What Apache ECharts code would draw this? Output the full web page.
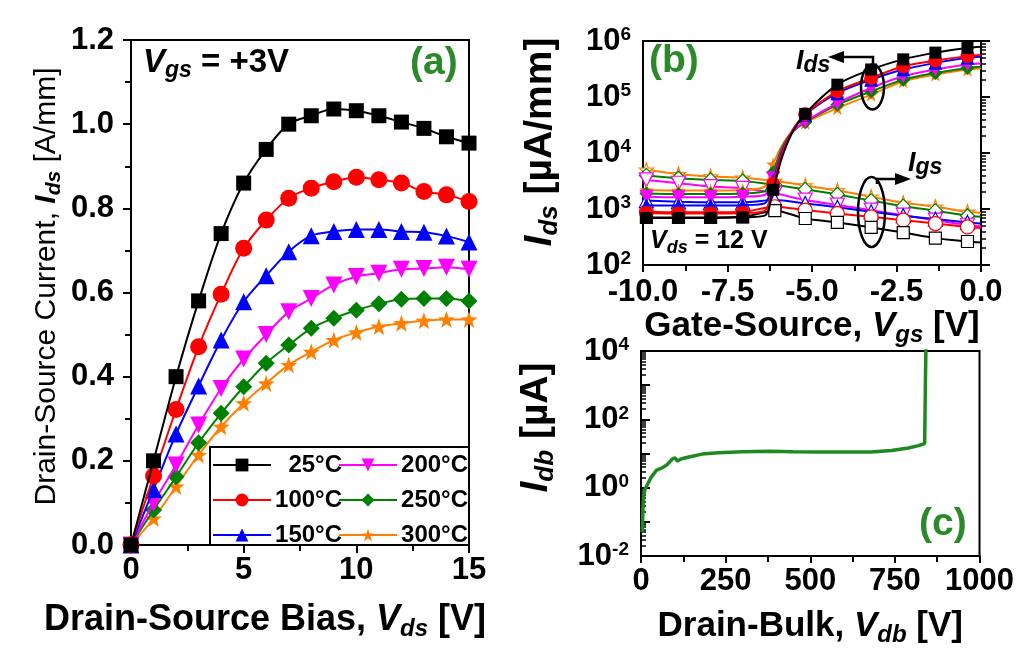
<!DOCTYPE html>
<html>
<head>
<meta charset="utf-8">
<script src="https://cdn.jsdelivr.net/npm/echarts@6/dist/echarts.min.js"></script>
<style>
  html, body { margin: 0; padding: 0; background: #fff; }
  #chart-container { width: 1017px; height: 648px; }
</style>
</head>
<body>
<div id="chart-container"></div>
<script>
// ---- (a) output curves, Vgs = +3 V ----
const VDS = [0, 1, 2, 3, 4, 5, 6, 7, 8, 9, 10, 11, 12, 13, 14, 15];
const IDS_25 = [0, 0.20, 0.40, 0.58, 0.74, 0.86, 0.94, 1.00, 1.02, 1.036, 1.032, 1.02, 1.005, 0.99, 0.97, 0.955];
const IDS_100 = [0, 0.164, 0.322, 0.471, 0.596, 0.705, 0.772, 0.824, 0.848, 0.863, 0.874, 0.868, 0.86, 0.84, 0.832, 0.816];
const IDS_150 = [0, 0.132, 0.264, 0.378, 0.487, 0.578, 0.64, 0.697, 0.735, 0.745, 0.75, 0.75, 0.745, 0.743, 0.734, 0.72];
const IDS_200 = [0, 0.10, 0.19, 0.285, 0.372, 0.442, 0.50, 0.554, 0.586, 0.618, 0.638, 0.646, 0.655, 0.657, 0.66, 0.655];
const IDS_250 = [0, 0.083, 0.162, 0.243, 0.313, 0.376, 0.432, 0.475, 0.515, 0.539, 0.558, 0.573, 0.584, 0.586, 0.586, 0.58];
const IDS_300 = [0, 0.063, 0.139, 0.214, 0.281, 0.337, 0.384, 0.428, 0.459, 0.487, 0.505, 0.519, 0.527, 0.533, 0.536, 0.536];
const TEMPS = ['25°C', '100°C', '150°C', '200°C', '250°C', '300°C'];

// ---- (b) transfer curves, Vds = 12 V (uA/mm) ----
const VGS_IDS = [-9.9, -8.95, -8.0, -7.05, -6.4, -6.15, -5.9, -5.6, -5.2, -4.25, -3.25, -2.3, -1.35, -0.4, 0];
const VGS_IGS = [-9.9, -8.95, -8.0, -7.05, -6.1, -5.2, -4.25, -3.25, -2.3, -1.35, -0.4, 0];
const VGS_MARKS = [-9.9, -8.95, -8.0, -7.05, -6.15, -6.1, -5.2, -4.25, -3.25, -2.3, -1.35, -0.4];
const B_IDS_25 = [690, 690, 690, 710, 760, 2200, 7900, 22000, 50000, 166000, 310000, 470000, 620000, 750000, 790000];
const B_IDS_100 = [850, 830, 830, 850, 930, 2800, 9300, 24000, 49000, 126000, 219000, 355000, 447000, 537000, 562000];
const B_IDS_150 = [1170, 1150, 1150, 1170, 1260, 3200, 10000, 24000, 48000, 117000, 204000, 309000, 407000, 501000, 525000];
const B_IDS_200 = [1660, 1620, 1620, 1660, 1780, 3550, 10700, 22900, 36300, 77600, 145000, 234000, 309000, 380000, 398000];
const B_IDS_250 = [1900, 1860, 1860, 1900, 2090, 4470, 12000, 23400, 35500, 72400, 126000, 204000, 269000, 331000, 347000];
const B_IDS_300 = [2190, 2140, 2140, 2190, 2510, 6310, 13200, 23400, 34700, 63100, 110000, 191000, 251000, 309000, 324000];
const B_IGS_25 = [708, 708, 708, 724, 933, 676, 575, 468, 380, 302, 263, 251];
const B_IGS_100 = [891, 871, 871, 891, 1096, 955, 832, 724, 631, 550, 479, 457];
const B_IGS_150 = [1413, 1349, 1318, 1318, 1445, 1259, 1072, 891, 759, 661, 575, 550];
const B_IGS_200 = [3311, 2884, 2512, 2344, 1905, 1445, 1175, 955, 776, 631, 513, 490];
const B_IGS_250 = [3981, 3548, 3311, 3162, 2692, 2239, 1820, 1413, 1122, 933, 759, 724];
const B_IGS_300 = [5012, 4169, 3802, 3631, 3162, 2630, 2138, 1660, 1288, 1096, 891, 851];

// ---- (c) drain-bulk breakdown (uA) ----
const VDB = [4, 6, 8, 12, 20, 30, 45, 60, 75, 92, 100, 108, 120, 145, 180, 230, 300, 380, 450, 520, 600, 680, 740, 790, 820, 838, 840, 842];
const IDB = [0.05, 0.3, 0.6, 0.9, 1.3, 2.0, 3.2, 3.7, 4.5, 6.8, 7.5, 6.0, 7.0, 8.0, 9.6, 10.5, 11.2, 11.7, 11.2, 11.0, 11.0, 11.0, 12.3, 14.5, 17, 19.5, 1000, 20000];

const COLORS = ['#000000', '#ff0000', '#0000ff', '#ff00ff', '#008000', '#ff8000'];
const STAR = 'path://M0,-10 L2.35,-3.24 L9.51,-3.09 L3.8,1.23 L5.88,8.09 L0,4 L-5.88,8.09 L-3.8,1.23 L-9.51,-3.09 L-2.35,-3.24 Z';
const SYMBOLS = ['rect', 'circle', 'triangle', 'triangle', 'diamond', STAR];
const ROTATE = [0, 0, 0, 180, 0, 0];
const FONT = 'Liberation Sans, Arial, sans-serif';

const chart = echarts.init(document.getElementById('chart-container'));

const zip = (xs, ys) => xs.map((x, i) => [x, ys[i]]);

// rich styles for titles with italic symbol + subscript
function titleRich(size, sub) {
  return {
    n: { fontSize: size, fontWeight: 'bold', fontFamily: FONT, color: '#000', lineHeight: size + 6 },
    m: { fontSize: size, fontFamily: FONT, color: '#000', lineHeight: size + 6 },
    i: { fontSize: size, fontWeight: 'bold', fontStyle: 'italic', fontFamily: FONT, color: '#000', lineHeight: size + 6 },
    s: { fontSize: sub, fontWeight: 'bold', fontStyle: 'italic', fontFamily: FONT, color: '#000', lineHeight: sub - 2, verticalAlign: 'bottom' }
  };
}
const labelRich = {
  sup: { fontSize: 19, fontWeight: 'bold', fontFamily: FONT, color: '#000', lineHeight: 16, verticalAlign: 'top' }
};
const tickLabel = { color: '#000', fontSize: 31, fontWeight: 'bold', fontFamily: FONT };
const line2 = { lineStyle: { color: '#000', width: 2 } };

function logLabel(v) {
  const e = Math.round(Math.log10(v));
  return '10{sup|' + e + '}';
}

const series = [];
const aData = [IDS_25, IDS_100, IDS_150, IDS_200, IDS_250, IDS_300];
aData.forEach((d, k) => {
  series.push({
    name: TEMPS[k], type: 'line', xAxisIndex: 0, yAxisIndex: 0,
    data: zip(VDS, d), smooth: 0.35,
    symbol: SYMBOLS[k], symbolRotate: ROTATE[k], symbolSize: k === 0 ? 15 : 17,
    showAllSymbol: true,
    itemStyle: { color: COLORS[k] }, lineStyle: { color: COLORS[k], width: 2 },
    z: 10 - k
  });
});

const bIds = [B_IDS_25, B_IDS_100, B_IDS_150, B_IDS_200, B_IDS_250, B_IDS_300];
const bIgs = [B_IGS_25, B_IGS_100, B_IGS_150, B_IGS_200, B_IGS_250, B_IGS_300];
const markSize = s => (v => VGS_MARKS.includes(v[0]) ? s : 0);
bIgs.forEach((d, k) => {
  series.push({
    type: 'line', xAxisIndex: 1, yAxisIndex: 1,
    data: zip(VGS_IGS, d), smooth: 0.3,
    symbol: SYMBOLS[k], symbolRotate: ROTATE[k], symbolSize: markSize(k === 0 ? 12 : 14),
    showAllSymbol: true,
    itemStyle: { color: '#ffffff', borderColor: COLORS[k], borderWidth: 1.2 },
    lineStyle: { color: COLORS[k], width: 2 },
    z: 10 - k
  });
});
bIds.forEach((d, k) => {
  series.push({
    type: 'line', xAxisIndex: 1, yAxisIndex: 1,
    data: zip(VGS_IDS, d), smooth: 0.3,
    symbol: SYMBOLS[k], symbolRotate: ROTATE[k], symbolSize: markSize(k === 0 ? 12 : 14),
    showAllSymbol: true,
    itemStyle: { color: COLORS[k] },
    lineStyle: { color: COLORS[k], width: 2 },
    z: 20 - k
  });
});

series.push({
  type: 'line', xAxisIndex: 2, yAxisIndex: 2,
  data: zip(VDB, IDB), symbol: 'none',
  lineStyle: { color: '#1e8a1e', width: 3.5 }, clip: true
});

const legendBase = {
  orient: 'vertical', itemWidth: 58, itemHeight: 16, itemGap: 11,
  textStyle: { color: '#000', fontSize: 24, fontWeight: 'bold', fontFamily: FONT,
    rich: { r: { width: 66, align: 'right', fontSize: 24, fontWeight: 'bold', fontFamily: FONT, color: '#000' } } },
  formatter: n => '{r|' + n + '}', padding: 0, selectedMode: false
};

const annRich = {
  i: { fontSize: 27, fontStyle: 'italic', fontWeight: 'bold', fontFamily: FONT, color: '#000', lineHeight: 30 },
  s: { fontSize: 23, fontStyle: 'italic', fontWeight: 'bold', fontFamily: FONT, color: '#000', lineHeight: 16, verticalAlign: 'bottom' }
};

const option = {
  backgroundColor: '#fff',
  animation: false,
  grid: [
    { left: 131, top: 40, width: 338, height: 505, show: true, borderColor: '#000', borderWidth: 2 },
    { left: 643, top: 41, width: 338, height: 224, show: true, borderColor: '#000', borderWidth: 2 },
    { left: 641, top: 351, width: 340, height: 207, show: true, borderColor: '#000', borderWidth: 2 }
  ],
  legend: [
    Object.assign({}, legendBase, { data: TEMPS.slice(0, 3), left: 212, top: 453 }),
    Object.assign({}, legendBase, { data: TEMPS.slice(3), left: 338, top: 453 })
  ],
  xAxis: [
    { gridIndex: 0, type: 'value', min: 0, max: 15, interval: 5,
      axisLine: line2, axisTick: { length: 8, lineStyle: { width: 2 } },
      minorTick: { show: true, splitNumber: 2, length: 6, lineStyle: { color: '#000', width: 2 } },
      axisLabel: Object.assign({ margin: 10 }, tickLabel), splitLine: { show: false },
      name: '{n|Drain-Source Bias, }{i|V}{s|ds}{n| [V]}', nameLocation: 'middle', nameGap: 54,
      nameTextStyle: { rich: titleRich(36, 24), padding: [0, 70, 0, 0] } },
    { gridIndex: 1, type: 'value', min: -10, max: 0, interval: 2.5,
      axisLine: line2, axisTick: { length: 7, lineStyle: { width: 2 } },
      minorTick: { show: true, splitNumber: 2, length: 6, lineStyle: { color: '#000', width: 2 } },
      axisLabel: Object.assign({ margin: 12, formatter: v => v.toFixed(1) }, tickLabel), splitLine: { show: false },
      name: '{n|Gate-Source, }{i|V}{s|gs}{n| [V]}', nameLocation: 'middle', nameGap: 40,
      nameTextStyle: { rich: titleRich(35, 24) } },
    { gridIndex: 2, type: 'value', min: 0, max: 1000, interval: 250,
      axisLine: line2, axisTick: { length: 7, lineStyle: { width: 2 } },
      minorTick: { show: true, splitNumber: 2, length: 6, lineStyle: { color: '#000', width: 2 } },
      axisLabel: Object.assign({ margin: 10, formatter: v => String(v) }, tickLabel), splitLine: { show: false },
      name: '{n|Drain-Bulk, }{i|V}{s|db}{n| [V]}', nameLocation: 'middle', nameGap: 50,
      nameTextStyle: { rich: titleRich(35, 24) } }
  ],
  yAxis: [
    { gridIndex: 0, type: 'value', min: 0, max: 1.2, interval: 0.2,
      axisLine: line2, axisTick: { length: 8, lineStyle: { width: 2 } },
      minorTick: { show: true, splitNumber: 2, length: 6, lineStyle: { color: '#000', width: 2 } },
      axisLabel: Object.assign({ margin: 17, formatter: v => v.toFixed(1) }, tickLabel), splitLine: { show: false },
      name: '{m|Drain-Source Current, }{i|I}{s|ds}{m| [A/mm]}', nameLocation: 'middle', nameGap: 66, nameRotate: 90,
      nameTextStyle: { rich: titleRich(30, 21), padding: [0, 0, 0, 12] } },
    { gridIndex: 1, type: 'log', logBase: 10, min: 100, max: 1e6,
      axisLine: line2, axisTick: { inside: true, length: 9, lineStyle: { width: 2 } },
      minorTick: { show: true, splitNumber: 9, length: 5, lineStyle: { color: '#000', width: 1.5 } },
      axisLabel: Object.assign({ margin: 12, formatter: logLabel, rich: labelRich }, tickLabel), splitLine: { show: false },
      name: '{i|I}{s|ds}{n| [µA/mm]}', nameLocation: 'middle', nameGap: 80, nameRotate: 90,
      nameTextStyle: { rich: titleRich(39, 26), padding: [0, 0, 0, 22] } },
    { gridIndex: 2, type: 'log', logBase: 10, min: 0.01, max: 1e4,
      axisLine: line2, axisTick: { inside: true, length: 9, lineStyle: { width: 2 } },
      minorTick: { show: true, splitNumber: 9, length: 5, lineStyle: { color: '#000', width: 1.5 } },
      axisLabel: Object.assign({ margin: 12, rich: labelRich,
        formatter: v => (Math.round(Math.log10(v)) % 2 === 0 ? logLabel(v) : '') }, tickLabel),
      splitLine: { show: false },
      name: '{i|I}{s|db}{n| [µA]}', nameLocation: 'middle', nameGap: 82, nameRotate: 90,
      nameTextStyle: { rich: titleRich(39, 26), padding: [0, 0, 0, 52] } }
  ],
  graphic: [
    { type: 'rect', shape: { x: 210, y: 447, width: 259, height: 98 },
      style: { fill: 'none', stroke: '#000', lineWidth: 2 }, z: 100 },
    { type: 'text', x: 143, y: 43, z: 100,
      style: { text: '{i|V}{s|gs}{n| = +3V}', rich: titleRich(33, 23) } },
    { type: 'text', x: 410, y: 44, z: 100,
      style: { text: '(a)', font: 'bold 39px ' + FONT, fill: '#2a8a2a' } },
    { type: 'text', x: 649, y: 42, z: 100,
      style: { text: '(b)', font: 'bold 39px ' + FONT, fill: '#2a8a2a' } },
    { type: 'text', x: 919, y: 505, z: 100,
      style: { text: '(c)', font: 'bold 39px ' + FONT, fill: '#2a8a2a' } },
    { type: 'text', x: 650, y: 226, z: 100,
      style: { text: '{i|V}{s|ds}{n| = 12 V}', rich: titleRich(25, 18) } },
    // I_ds annotation
    { type: 'text', x: 796, y: 47, z: 100, style: { text: '{i|I}{s|ds}', rich: annRich } },
    { type: 'ellipse', z: 100, shape: { cx: 872.5, cy: 87, rx: 11.5, ry: 22.5 },
      style: { fill: 'none', stroke: '#000', lineWidth: 2.5 } },
    { type: 'polyline', z: 100, shape: { points: [[873, 64], [873, 57], [842, 57]] },
      style: { stroke: '#000', lineWidth: 2.5, fill: 'none' } },
    { type: 'polygon', z: 100, shape: { points: [[828, 57], [844, 51], [844, 63]] }, style: { fill: '#000' } },
    // I_gs annotation
    { type: 'text', x: 908, y: 149, z: 100, style: { text: '{i|I}{s|gs}', rich: annRich } },
    { type: 'ellipse', z: 100, shape: { cx: 871.5, cy: 212, rx: 13.5, ry: 35 },
      style: { fill: 'none', stroke: '#000', lineWidth: 2.5 } },
    { type: 'polyline', z: 100, shape: { points: [[877, 184], [877, 179], [897, 179]] },
      style: { stroke: '#000', lineWidth: 2.5, fill: 'none' } },
    { type: 'polygon', z: 100, shape: { points: [[911, 179], [895, 173], [895, 185]] }, style: { fill: '#000' } }
  ],
  series: series
};

chart.setOption(option);
</script>
</body>
</html>
